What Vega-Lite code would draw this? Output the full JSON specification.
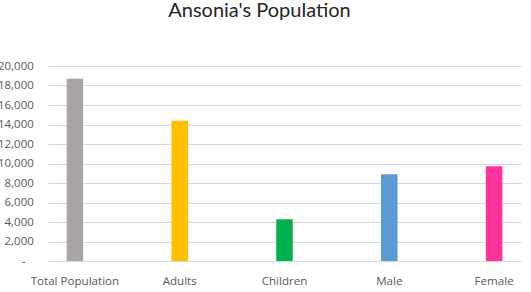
{
  "$schema": "https://vega.github.io/schema/vega-lite/v6.json",
  "autosize": "none",
  "width": 473,
  "height": 195,
  "padding": {"left": 48, "top": 66, "right": 10, "bottom": 31},
  "background": "white",
  "title": {
    "text": "Ansonia's Population",
    "font": "Lato",
    "fontSize": 20,
    "fontWeight": "normal",
    "color": "#262626",
    "anchor": "middle",
    "frame": "group",
    "baseline": "alphabetic",
    "offset": 22.7,
    "dx": -25
  },
  "data": {
    "values": [
      {"category": "Total Population", "population": 18700},
      {"category": "Adults", "population": 14380},
      {"category": "Children", "population": 4280},
      {"category": "Male", "population": 8890},
      {"category": "Female", "population": 9710}
    ]
  },
  "mark": {"type": "bar"},
  "encoding": {
    "x": {
      "field": "category",
      "type": "nominal",
      "sort": null,
      "scale": {"paddingInner": 0.8426, "paddingOuter": 0.178},
      "axis": {
        "title": null,
        "labelAngle": 0,
        "labelFont": "Open Sans",
        "labelFontSize": 11.6,
        "labelColor": "#595959",
        "labelPadding": 23.7,
        "labelBaseline": "alphabetic",
        "ticks": false,
        "domain": false,
        "grid": false
      }
    },
    "y": {
      "field": "population",
      "type": "quantitative",
      "scale": {"domain": [0, 20000], "nice": false},
      "axis": {
        "title": null,
        "values": [0, 2000, 4000, 6000, 8000, 10000, 12000, 14000, 16000, 18000, 20000],
        "labelExpr": "datum.value == 0 ? '-' : format(datum.value, ',')",
        "labelFont": "Open Sans",
        "labelFontSize": 11.5,
        "labelColor": "#595959",
        "labelPadding": {"condition": {"test": "datum.value == 0", "value": 23}, "value": 14.7},
        "ticks": false,
        "domain": false,
        "grid": true,
        "gridColor": "#D9D9D9",
        "gridWidth": 1
      }
    },
    "color": {
      "field": "category",
      "type": "nominal",
      "sort": null,
      "scale": {
        "domain": ["Total Population", "Adults", "Children", "Male", "Female"],
        "range": ["#A9A5A3", "#FFC000", "#00B050", "#5B9BD5", "#FF3399"]
      },
      "legend": null
    }
  },
  "config": {
    "view": {"stroke": null}
  }
}
